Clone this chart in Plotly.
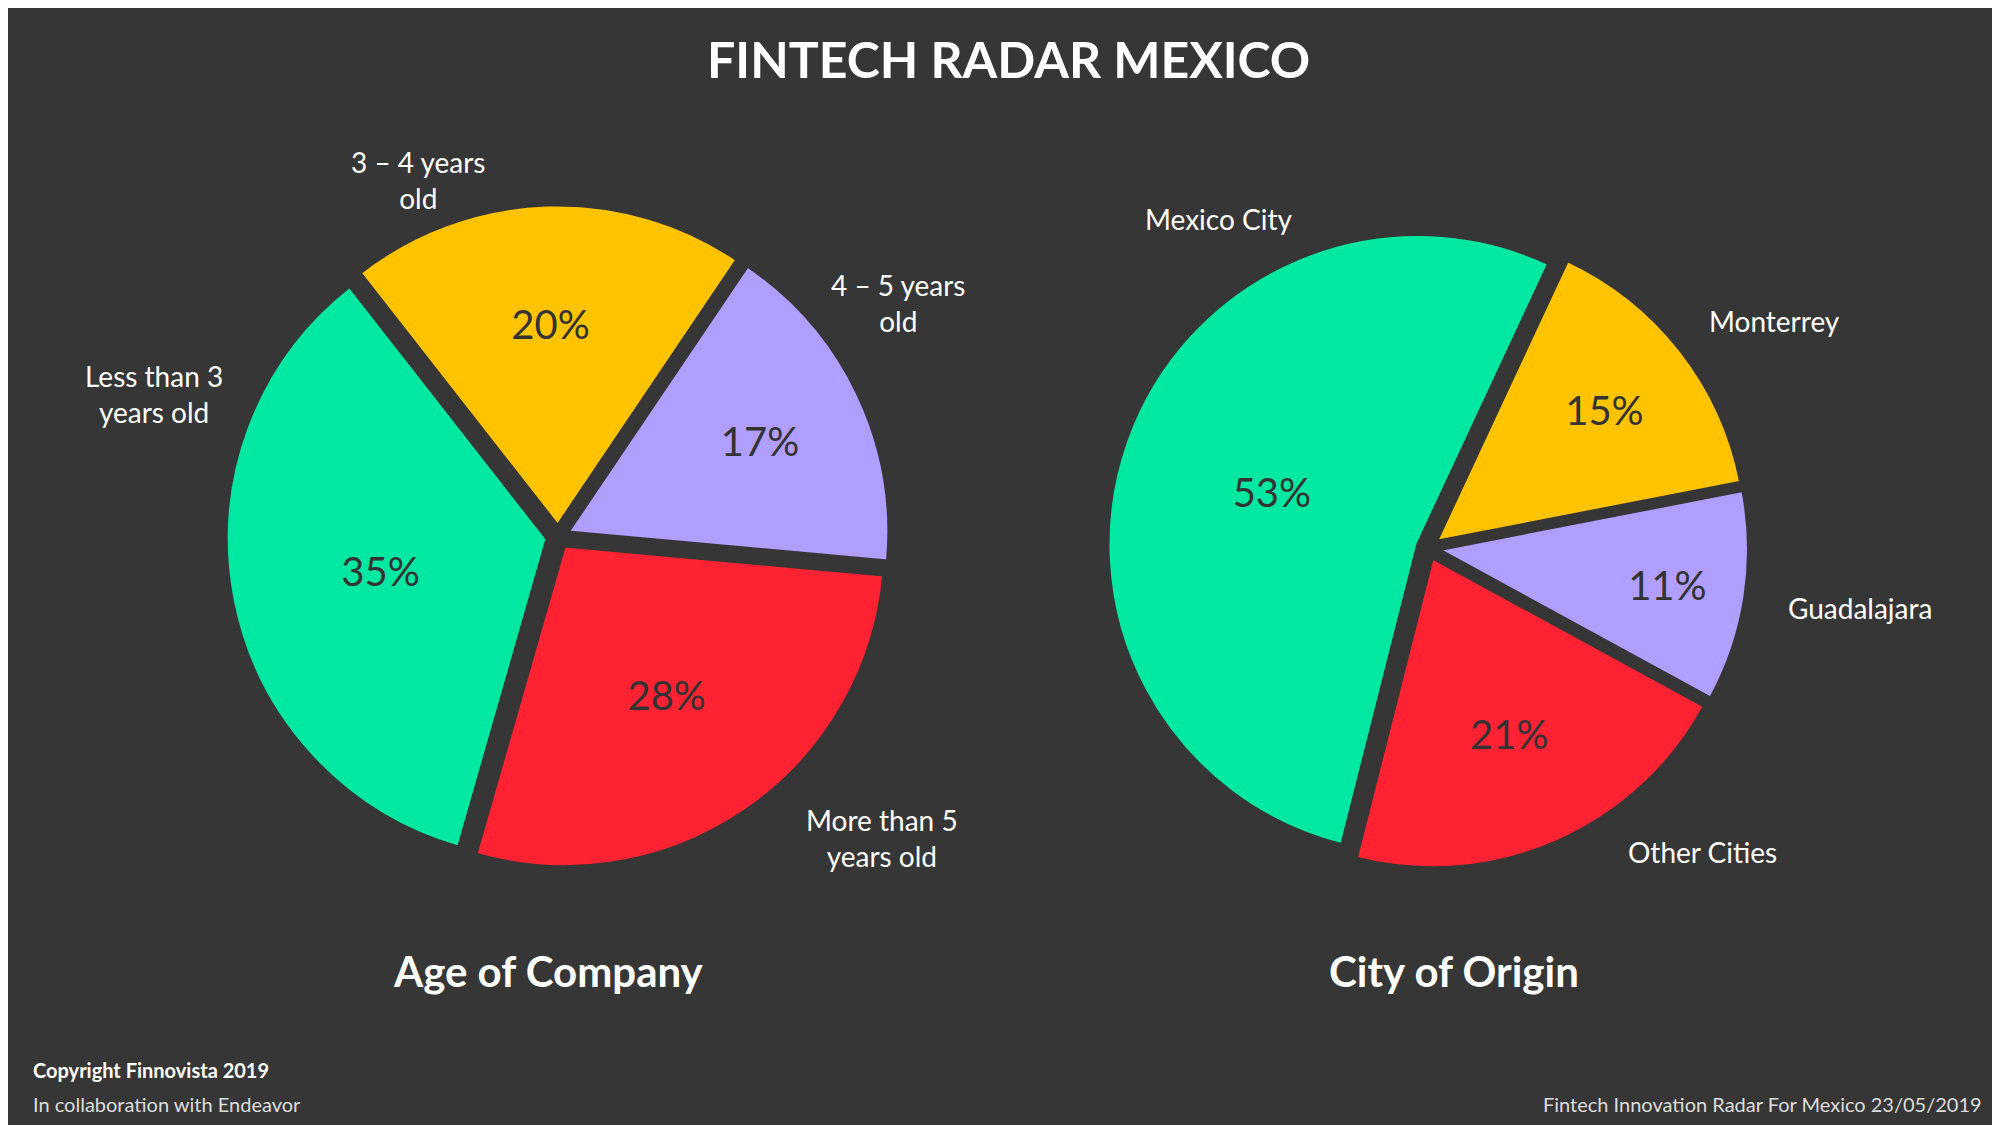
import plotly.graph_objects as go

age_labels = ["3 – 4 years old", "4 – 5 years old", "More than 5 years old", "Less than 3 years old"]
age_values = [20, 17, 28, 35]
age_colors = ["#FFC300", "#B09FFF", "#FF2233", "#00E8A2"]

city_labels = ["Monterrey", "Guadalajara", "Other Cities", "Mexico City"]
city_values = [15, 11, 21, 53]
city_colors = ["#FFC300", "#B09FFF", "#FF2233", "#00E8A2"]

BG = "#363636"
FONT = "Lato"

fig = go.Figure()
fig.add_trace(go.Pie(labels=age_labels, values=age_values, sort=False, direction="clockwise",
                     rotation=-38, pull=0.035, marker=dict(colors=age_colors, line=dict(color=BG, width=3)),
                     textinfo="percent", textposition="inside", insidetextorientation="horizontal",
                     texttemplate="%{value}%", textfont=dict(color="#333333", size=40, family=FONT),
                     domain=dict(x=[0.10, 0.45], y=[0.235, 0.825]), showlegend=False))
fig.add_trace(go.Pie(labels=city_labels, values=city_values, sort=False, direction="clockwise",
                     rotation=25, pull=0.035, marker=dict(colors=city_colors, line=dict(color=BG, width=3)),
                     textinfo="percent", textposition="inside", insidetextorientation="horizontal",
                     texttemplate="%{value}%", textfont=dict(color="#333333", size=40, family=FONT),
                     domain=dict(x=[0.545, 0.875], y=[0.235, 0.805]), showlegend=False))

ann = []
def A(text, x, y, size=28, bold=False, xanchor="center", color="white"):
    t = f"<b>{text}</b>" if bold else text
    ann.append(dict(text=t, x=x, y=y, xref="paper", yref="paper", showarrow=False,
                    xanchor=xanchor, yanchor="middle", font=dict(size=size, color=color, family=FONT)))

A("3 – 4 years<br>old", 0.205, 0.847)
A("4 – 5 years<br>old", 0.445, 0.738)
A("Less than 3<br>years old", 0.073, 0.657)
A("More than 5<br>years old", 0.437, 0.262)
A("Mexico City", 0.605, 0.812)
A("Monterrey", 0.883, 0.722)
A("Guadalajara", 0.926, 0.467)
A("Other Cities", 0.847, 0.250)
A("FINTECH RADAR MEXICO", 0.5, 0.955, size=50, bold=True)
A("Age of Company", 0.27, 0.144, size=42, bold=True)
A("City of Origin", 0.723, 0.144, size=42, bold=True)
A("Copyright Finnovista 2019", 0.0115, 0.056, size=20, bold=True, xanchor="left")
A("In collaboration with Endeavor", 0.0115, 0.026, size=20, xanchor="left", color="#dddddd")
A("Fintech Innovation Radar For Mexico 23/05/2019", 0.988, 0.026, size=20, xanchor="right", color="#dddddd")

fig.update_layout(width=2000, height=1125, paper_bgcolor=BG, plot_bgcolor=BG,
                  margin=dict(l=0, r=0, t=0, b=0), annotations=ann, font=dict(family=FONT))
fig.write_html("out.html")
